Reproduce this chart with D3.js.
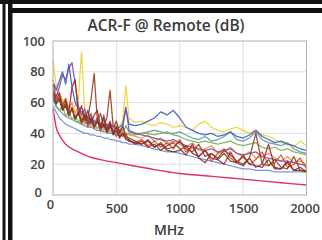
<!DOCTYPE html>
<html>
<head>
<meta charset="utf-8">
<script src="https://cdn.jsdelivr.net/npm/d3@7"></script>
<style>
  html, body { margin: 0; padding: 0; background: #fff; }
  svg { display: block; font-family: "Open Sans", sans-serif; }
</style>
</head>
<body>
<div id="chart"></div>
<script>
// frequency grid (MHz) shared by all measured traces
const freqs = [1, 10, 25, 50, 75, 100, 125, 150, 175, 200, 225, 250, 275, 300, 325, 350, 375, 400, 425, 450, 475, 500, 525, 550, 575, 600,
  650, 700, 750, 800, 850, 900, 950, 1000, 1050, 1100, 1150, 1200, 1250, 1300, 1350, 1400, 1450, 1500, 1550, 1600, 1650, 1700, 1750, 1800, 1850, 1900, 1950, 2000];

const yellowVals = [88, 80, 72, 66, 62, 60, 58, 56, 58, 62, 93, 55, 50, 52, 48, 50, 46, 48, 45, 47, 44, 46, 45, 48, 71, 50,
  47, 48, 46, 45, 47, 46, 44, 45, 44, 42, 46, 48, 44, 42, 41, 43, 44, 42, 40, 42, 39, 38, 36, 34, 33, 31, 35, 32];
const blueVals = [70, 72, 68, 74, 80, 72, 85, 70, 60, 56, 54, 52, 50, 49, 48, 47, 46, 45, 46, 44, 45, 43, 44, 46, 56, 46,
  45, 46, 48, 50, 54, 52, 55, 50, 44, 42, 40, 39, 40, 38, 39, 41, 38, 37, 39, 42, 38, 36, 34, 35, 33, 32, 30, 29];
const tealVals = [65, 62, 58, 55, 53, 51, 50, 49, 48, 47, 46, 45, 44, 44, 43, 42, 42, 41, 41, 40, 40, 39, 39, 40, 45, 41,
  40, 40, 41, 42, 41, 40, 40, 41, 39, 37, 36, 38, 35, 36, 38, 41, 36, 35, 37, 41, 36, 34, 33, 32, 34, 30, 28, 27];
const purpleVals = [62, 66, 64, 70, 78, 75, 82, 86, 72, 58, 52, 56, 48, 53, 45, 50, 44, 52, 43, 48, 41, 45, 42, 44, 57, 42,
  40, 39, 38, 37, 36, 35, 36, 34, 32, 31, 30, 29, 30, 28, 29, 30, 27, 26, 27, 28, 25, 24, 23, 22, 22, 21, 20, 19];
const brownVals = [68, 64, 60, 64, 56, 60, 52, 57, 49, 54, 47, 52, 50, 62, 79, 48, 53, 44, 50, 68, 44, 48, 40, 45, 38, 37,
  35, 33, 36, 31, 34, 30, 31, 35, 30, 28, 33, 25, 27, 24, 29, 26, 22, 20, 24, 40, 20, 19, 23, 18, 17, 25, 16, 16];
const darkRedVals = [72, 66, 62, 66, 58, 62, 54, 70, 75, 52, 58, 48, 55, 46, 52, 55, 44, 50, 42, 47, 40, 44, 38, 40, 37, 36,
  33, 35, 31, 33, 29, 32, 34, 30, 26, 33, 24, 21, 27, 23, 20, 28, 21, 19, 24, 18, 20, 33, 18, 17, 22, 16, 18, 15];
const redVals = [60, 62, 60, 63, 55, 59, 51, 56, 49, 53, 46, 51, 44, 50, 43, 48, 41, 46, 40, 44, 42, 38, 42, 38, 40, 35,
  34, 36, 32, 35, 31, 34, 30, 36, 28, 31, 25, 29, 22, 27, 30, 24, 21, 26, 20, 23, 28, 19, 21, 26, 18, 20, 24, 17];
const orangeVals = [75, 70, 64, 67, 60, 63, 56, 60, 53, 57, 50, 54, 48, 52, 46, 50, 44, 47, 43, 46, 41, 44, 40, 43, 39, 39,
  38, 37, 39, 35, 37, 33, 35, 33, 31, 34, 29, 30, 32, 27, 28, 31, 27, 25, 28, 24, 25, 27, 24, 22, 25, 21, 22, 20];
const greenVals = [64, 60, 57, 55, 58, 51, 54, 49, 52, 47, 50, 46, 49, 44, 47, 43, 46, 42, 45, 41, 43, 40, 42, 41, 40, 40,
  39, 40, 40, 39, 40, 41, 39, 38, 36, 35, 34, 35, 34, 33, 34, 35, 33, 32, 33, 34, 31, 30, 31, 29, 30, 28, 27, 26];
const lightBlueVals = [58, 56, 54, 50, 48, 46, 45, 44, 43, 42, 41, 40, 40, 39, 39, 38, 38, 37, 37, 36, 36, 35, 35, 34, 34, 33,
  33, 32, 31, 30, 29, 28, 28, 27, 26, 25, 24, 23, 22, 21, 20, 19, 18, 17, 17, 16, 16, 16, 15, 15, 15, 15, 15, 15];
const darkBrownVals = [66, 62, 59, 62, 55, 58, 52, 56, 50, 54, 48, 52, 46, 50, 44, 48, 43, 46, 41, 45, 39, 42, 37, 40, 36, 35,
  34, 33, 35, 31, 33, 29, 28, 29, 32, 27, 25, 29, 24, 23, 27, 22, 21, 25, 20, 19, 18, 23, 17, 17, 21, 16, 16, 15];

// limit line
const limitFreqs = [1, 10, 25, 50, 100, 150, 200, 300, 400, 500, 600, 800, 1000, 1200, 1400, 1600, 1800, 2000];
const limitVals = [56, 51, 44, 39, 33, 30, 28, 24.5, 22.5, 21, 19.5, 16.5, 14, 12.5, 11, 9.5, 8, 6.5];

const xTicks = [0, 500, 1000, 1500, 2000];
const yTicks = [0, 20, 40, 60, 80, 100];

const series = [
  { name: "lightBlue", color: "#6f8bd0", values: lightBlueVals },
  { name: "teal", color: "#5d90ad", values: tealVals },
  { name: "green", color: "#74b34f", values: greenVals },
  { name: "orange", color: "#e98f3a", values: orangeVals },
  { name: "yellow", color: "#e8d233", values: yellowVals },
  { name: "blue", color: "#3a5cb8", values: blueVals },
  { name: "purple", color: "#7b4ca8", values: purpleVals },
  { name: "red", color: "#d84a2e", values: redVals },
  { name: "darkBrown", color: "#6e3428", values: darkBrownVals },
  { name: "darkRed", color: "#a02232", values: darkRedVals },
  { name: "brown", color: "#8e3d1c", values: brownVals },
];

const width = 322;
const height = 240;
const plot = { left: 53, right: 306.5, top: 41, bottom: 195 };

const svg = d3.select("#chart")
  .append("svg")
  .attr("width", width)
  .attr("height", height);

svg.append("rect").attr("width", width).attr("height", height).attr("fill", "#fff");

// black frame bars from the page layout
svg.append("rect").attr("x", 0).attr("y", 0).attr("width", width).attr("height", 4).attr("fill", "#151515");
svg.append("rect").attr("x", 8).attr("y", 8).attr("width", width - 8).attr("height", 5).attr("fill", "#111");
svg.append("rect").attr("x", 2.5).attr("y", 0).attr("width", 3).attr("height", height).attr("fill", "#151515");
svg.append("rect").attr("x", 8).attr("y", 0).attr("width", 4.5).attr("height", height).attr("fill", "#111");

const x = d3.scaleLinear().domain([0, 2000]).range([plot.left, plot.right]);
const y = d3.scaleLinear().domain([0, 100]).range([plot.bottom, plot.top]);

// grid
const grid = svg.append("g").attr("class", "grid");
grid.selectAll(".gx")
  .data(xTicks.slice(1, -1))
  .enter()
  .append("line")
  .attr("x1", (d) => x(d)).attr("x2", (d) => x(d))
  .attr("y1", plot.top).attr("y2", plot.bottom)
  .attr("stroke", "#dedede");
grid.selectAll(".gy")
  .data(yTicks.slice(1, -1))
  .enter()
  .append("line")
  .attr("x1", plot.left).attr("x2", plot.right)
  .attr("y1", (d) => y(d)).attr("y2", (d) => y(d))
  .attr("stroke", "#dedede");

// traces
const line = d3.line()
  .x((d) => x(d[0]))
  .y((d) => y(d[1]));

const traces = svg.append("g").attr("class", "traces");
series.forEach((s) => {
  traces.append("path")
    .datum(freqs.map((f, i) => [f, s.values[i]]))
    .attr("d", line)
    .attr("fill", "none")
    .attr("stroke", s.color)
    .attr("stroke-width", 1.25)
    .attr("stroke-linejoin", "round")
    .attr("opacity", 0.9);
});

svg.append("path")
  .datum(limitFreqs.map((f, i) => [f, limitVals[i]]))
  .attr("d", line.curve(d3.curveMonotoneX))
  .attr("fill", "none")
  .attr("stroke", "#e0305e")
  .attr("stroke-width", 1.4);

// plot frame
svg.append("rect")
  .attr("x", plot.left).attr("y", plot.top)
  .attr("width", plot.right - plot.left).attr("height", plot.bottom - plot.top)
  .attr("fill", "none")
  .attr("stroke", "#b0b0b0");

// axes
const xAxis = svg.append("g")
  .attr("transform", `translate(0, ${plot.bottom})`)
  .call(d3.axisBottom(x).tickValues(xTicks).tickFormat(d3.format("d")).tickSize(0).tickPadding(9));
const yAxis = svg.append("g")
  .attr("transform", `translate(${plot.left}, 0)`)
  .call(d3.axisLeft(y).tickValues(yTicks).tickFormat(d3.format("d")).tickSize(0).tickPadding(8));

[xAxis, yAxis].forEach((g) => {
  g.select(".domain").remove();
  g.selectAll("text")
    .attr("fill", "#444")
    .style("font-family", "Open Sans, sans-serif")
    .style("font-size", "13px")
    .style("font-weight", "600");
});
xAxis.selectAll("text").filter((d) => d === 0).attr("dx", "-3px").attr("dy", "0.4em");
xAxis.selectAll("text").filter((d) => d === 2000).attr("dx", "-2px");
yAxis.selectAll("text").filter((d) => d === 0).attr("dx", "-3px").attr("dy", "0.1em");

// titles
svg.append("text")
  .attr("x", 166).attr("y", 31)
  .attr("text-anchor", "middle")
  .attr("fill", "#3a3a3a")
  .style("font-size", "15.5px")
  .style("font-weight", "600")
  .text("ACR-F @ Remote (dB)");

svg.append("text")
  .attr("x", 169).attr("y", 235)
  .attr("text-anchor", "middle")
  .attr("fill", "#3a3a3a")
  .style("font-size", "14px")
  .style("font-weight", "600")
  .text("MHz");
</script>
</body>
</html>
